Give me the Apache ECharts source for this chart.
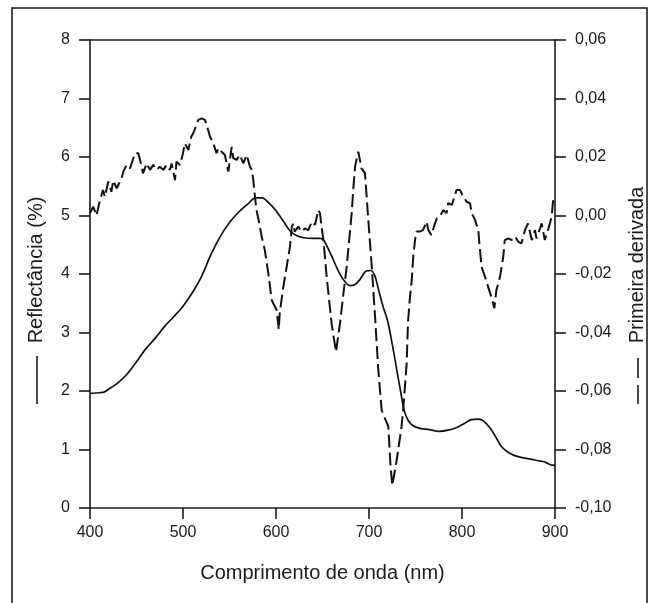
<!DOCTYPE html>
<html>
<head>
<meta charset="utf-8">
<script src="https://cdn.jsdelivr.net/npm/echarts@6/dist/echarts.min.js"></script>
<style>
html,body{margin:0;padding:0;background:#fff;}
#chart{width:649px;height:603px;}
</style>
</head>
<body>
<div id="chart"></div>
<script>
// Wavelength ticks (nm)
var xTicks = [400, 500, 600, 700, 800, 900];
var leftTicks = [0, 1, 2, 3, 4, 5, 6, 7, 8];
var rightTickLabels = ['-0,10','-0,08','-0,06','-0,04','-0,02','0,00','0,02','0,04','0,06'];

// Reflectance (%) - solid line, left axis
var reflWl  = [400,410,415,420,430,440,450,460,470,480,490,500,510,520,530,540,550,560,570,578,585,592,600,608,615,622,630,640,648,652,660,668,675,680,685,690,697,702,706,710,715,720,725,730,735,738,742,747,755,765,775,785,795,803,810,818,823,830,836,842,848,856,865,875,885,890,895,900];
var reflVal = [1.96,1.97,1.98,2.03,2.14,2.29,2.5,2.72,2.9,3.1,3.27,3.45,3.68,3.96,4.33,4.64,4.88,5.06,5.2,5.3,5.3,5.22,5.08,4.9,4.74,4.66,4.62,4.61,4.61,4.56,4.3,4.02,3.85,3.8,3.82,3.9,4.05,4.06,3.98,3.75,3.45,3.2,2.8,2.35,1.9,1.66,1.5,1.41,1.36,1.34,1.31,1.33,1.38,1.45,1.51,1.52,1.49,1.37,1.22,1.06,0.97,0.9,0.86,0.83,0.8,0.78,0.74,0.73];

// First derivative - dashed line, right axis
var derivWl  = [400,403.5,407,410.7,414,416,419.7,423,425,428.7,434,435.8,439.4,443,448.4,452,455.6,457,461,464.5,468,471.7,475,478.8,482.4,486,487.8,491.4,493,496.8,500,502,505.7,509,511,513,516.5,520,523.6,525.4,529,532.6,536,538,541.6,545,548.7,552.4,554,557.7,561,564.9,568.5,572,574,575.6,577.4,579,581,584.6,588,591.7,595.4,597,600.7,603,604,607.9,611.5,615,617,618.6,620,624,627.6,631,634.8,638.4,642,645.5,647.3,649,651,654.5,659.8,664.5,668.8,672,676,681.4,683,685,688.5,692,695.7,699,703,706.5,710,713.6,717,720.8,723,725,729.8,735,737,740.5,742,744,746,747.6,749.5,751,754.8,758,762,763.8,767,769,771,773,776,780,783.5,785,789,792.5,794,796,798,799.6,801.4,805,808.6,810.4,814,817.5,819,821,824.7,828,832,834.8,837,840.9,844.4,846,849.8,853.4,857,860.6,864,867.7,871,875,878.5,880,884,885.7,889,893,896.4,898];
var derivVal = [0.0008,0.003,0.0,0.0053,0.0087,0.0064,0.0116,0.0081,0.012,0.0093,0.0127,0.015,0.0173,0.0161,0.0213,0.0213,0.0167,0.0144,0.0178,0.0156,0.0173,0.0156,0.0167,0.0156,0.0173,0.0156,0.0178,0.0121,0.0184,0.0173,0.0213,0.0247,0.0224,0.027,0.0281,0.0287,0.0327,0.0332,0.0327,0.031,0.027,0.0247,0.0213,0.023,0.0218,0.0207,0.015,0.0235,0.0196,0.019,0.0207,0.0178,0.0207,0.0167,0.0156,0.0121,0.0064,0.0019,-0.001,-0.0072,-0.0118,-0.0198,-0.0289,-0.030,-0.0323,-0.039,-0.0334,-0.0243,-0.0175,-0.0107,-0.0038,-0.0027,-0.0055,-0.0038,-0.0055,-0.0044,-0.005,-0.0021,-0.0032,0.0019,0.0008,-0.0038,-0.0084,-0.021,-0.037,-0.0466,-0.037,-0.028,-0.0175,0.0008,0.0087,0.0167,0.0218,0.0161,0.0144,-0.0004,-0.0175,-0.0346,-0.0528,-0.0665,-0.0693,-0.0722,-0.0848,-0.0923,-0.0836,-0.0722,-0.0654,-0.0505,-0.036,-0.028,-0.022,-0.014,-0.0084,-0.0055,-0.0055,-0.005,-0.0021,-0.005,-0.0067,-0.0067,-0.0027,-0.001,-0.0004,0.0019,0.0008,0.0042,0.0036,0.007,0.0087,0.0081,0.0087,0.0087,0.0064,0.0047,0.0042,0.0008,-0.0015,-0.005,-0.0107,-0.0175,-0.0209,-0.0243,-0.0283,-0.0317,-0.0255,-0.0209,-0.014,-0.0084,-0.0078,-0.0084,-0.0072,-0.009,-0.0095,-0.005,-0.0027,-0.0084,-0.005,-0.0078,-0.0044,-0.0027,-0.0084,-0.0044,-0.0004,0.0053];

function zip(a, b) { return a.map(function (v, i) { return [v, b[i]]; }); }

var FONT = '"Liberation Sans", Arial, sans-serif';
var INK = '#1a1a1a';

var chart = echarts.init(document.getElementById('chart'), null, {renderer: 'canvas'});
chart.setOption({
  backgroundColor: '#fff',
  animation: false,
  grid: {left: 90, right: 94, top: 40, bottom: 95, containLabel: false},
  xAxis: [{
    type: 'value', min: 400, max: 900, interval: 100, position: 'bottom',
    name: 'Comprimento de onda (nm)', nameLocation: 'middle', nameGap: 55,
    nameTextStyle: {fontFamily: FONT, fontSize: 20, color: INK},
    axisLine: {show: true, lineStyle: {color: INK, width: 1.6}},
    axisTick: {show: true, length: 11, lineStyle: {color: INK, width: 1.6}},
    axisLabel: {fontFamily: FONT, fontSize: 16, color: INK, margin: 17},
    splitLine: {show: false}
  }, {
    type: 'value', min: 400, max: 900, interval: 100, position: 'top',
    axisLine: {show: true, onZero: false, lineStyle: {color: INK, width: 1.6}},
    axisTick: {show: false}, axisLabel: {show: false}, splitLine: {show: false}
  }],
  yAxis: [{
    type: 'value', min: 0, max: 8, interval: 1, position: 'left',
    axisLine: {show: true, lineStyle: {color: INK, width: 1.6}},
    axisTick: {show: true, length: 11, lineStyle: {color: INK, width: 1.6}},
    axisLabel: {fontFamily: FONT, fontSize: 16, color: INK, margin: 20},
    splitLine: {show: false}
  }, {
    type: 'value', min: -0.10, max: 0.06, interval: 0.02, position: 'right',
    axisLine: {show: true, onZero: false, lineStyle: {color: INK, width: 1.6}},
    axisTick: {show: true, length: 11, lineStyle: {color: INK, width: 1.6}},
    axisLabel: {fontFamily: FONT, fontSize: 16, color: INK, margin: 20,
      formatter: function (v) {
        var idx = Math.round((v + 0.10) / 0.02);
        return rightTickLabels[idx];
      }},
    splitLine: {show: false}
  }],
  graphic: [
    {type: 'rect', silent: true, z: -1, shape: {x: 12, y: 8, width: 635, height: 640},
      style: {fill: 'none', stroke: '#111', lineWidth: 1.5}},
    {type: 'text', silent: true, x: 36, y: 270, rotation: Math.PI / 2,
      style: {text: 'Reflectância (%)', fontFamily: FONT, fontSize: 20, fill: INK, align: 'center', verticalAlign: 'middle'}},
    {type: 'line', silent: true, shape: {x1: 37, y1: 356, x2: 37, y2: 404},
      style: {stroke: INK, lineWidth: 1.6}},
    {type: 'text', silent: true, x: 637, y: 265, rotation: Math.PI / 2,
      style: {text: 'Primeira derivada', fontFamily: FONT, fontSize: 20, fill: INK, align: 'center', verticalAlign: 'middle'}},
    {type: 'line', silent: true, shape: {x1: 638, y1: 358, x2: 638, y2: 404},
      style: {stroke: INK, lineWidth: 1.6, lineDash: [20, 7]}}
  ],
  series: [{
    name: 'Reflectância', type: 'line', xAxisIndex: 0, yAxisIndex: 0,
    data: zip(reflWl, reflVal), showSymbol: false, smooth: 0.3,
    lineStyle: {color: '#111', width: 1.7}
  }, {
    name: 'Primeira derivada', type: 'line', xAxisIndex: 0, yAxisIndex: 1,
    data: zip(derivWl, derivVal), showSymbol: false,
    lineStyle: {color: '#111', width: 2, type: [13, 5]}
  }]
});
</script>
</body>
</html>
